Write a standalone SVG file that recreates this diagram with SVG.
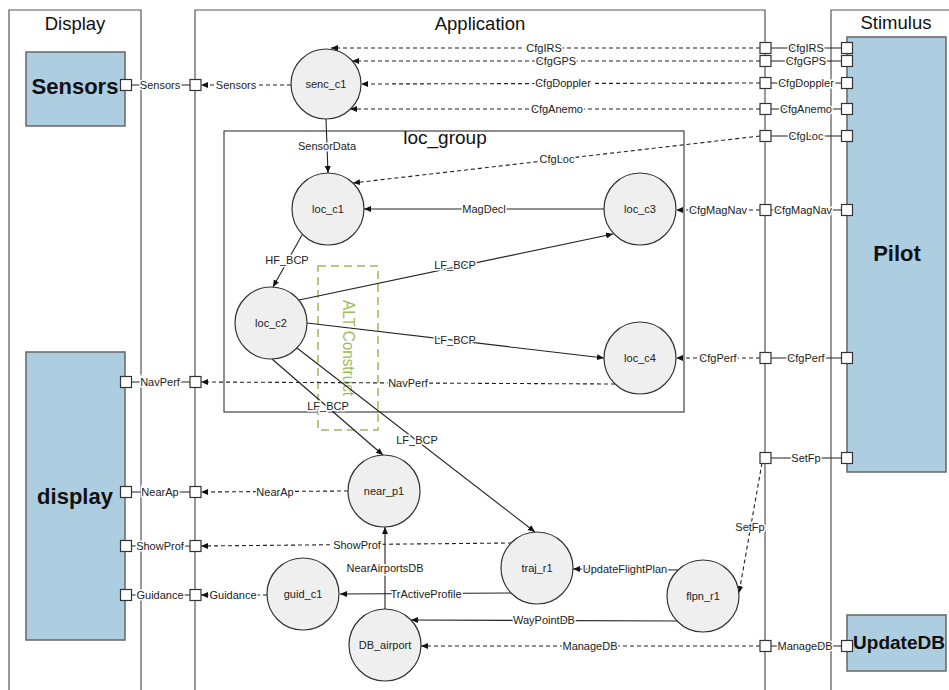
<svg xmlns="http://www.w3.org/2000/svg" width="949" height="690" viewBox="0 0 949 690">
<style>
.cont{fill:none;stroke:#555;stroke-width:1.2}
.title{font-family:"Liberation Sans",Arial,sans-serif;font-size:18.5px;fill:#111;text-anchor:middle}
.blk{fill:#adcde0;stroke:#666;stroke-width:1.5}
.big{font-family:"Liberation Sans",Arial,sans-serif;font-size:22px;font-weight:bold;fill:#111;text-anchor:middle;dominant-baseline:central}
.nd{fill:#efefef;stroke:#333;stroke-width:1.2}
.nt{font-family:"Liberation Sans",Arial,sans-serif;font-size:11px;fill:#222;text-anchor:middle;dominant-baseline:central}
.port{fill:#fff;stroke:#333;stroke-width:1.2}
.s{fill:none;stroke:#222;stroke-width:1.1}
.d{fill:none;stroke:#222;stroke-width:1.1;stroke-dasharray:4 3}
.lbl{font-family:"Liberation Sans",Arial,sans-serif;font-size:11px;fill:#222;text-anchor:middle;dominant-baseline:central;stroke:#fff;stroke-width:3;paint-order:stroke}
</style>
<defs>
<marker id="arr" markerWidth="8" markerHeight="8" refX="7" refY="4" orient="auto" markerUnits="userSpaceOnUse"><path d="M0,1 L7,4 L0,7 z" fill="#111"/></marker>
</defs>
<rect width="949" height="690" fill="#fff"/>
<g id="Display">
<path class="cont" d="M9,690 V10 H141 V690"/>
<text class="title" x="75" y="30">Display</text>
</g>
<g id="Application">
<path class="cont" d="M195,690 V10 H765 V690"/>
<text class="title" x="480" y="30">Application</text>
</g>
<g id="Stimulus">
<path class="cont" d="M831,690 V10 H949"/>
<text class="title" x="896" y="29">Stimulus</text>
</g>
<g id="loc_group">
<rect x="224" y="131" width="460" height="281" fill="none" stroke="#444" stroke-width="1.2"/>
<text x="445" y="144" font-family="Liberation Sans, Arial, sans-serif" font-size="19" fill="#111" text-anchor="middle">loc_group</text>
</g>
<g id="ALT_Construct">
<rect x="318" y="266" width="60" height="164" fill="none" stroke="#9bbb59" stroke-width="1.5" stroke-dasharray="8 5"/>
<text transform="translate(343,348) rotate(90)" font-family="Liberation Sans, Arial, sans-serif" font-size="16" fill="#9bbb59" text-anchor="middle" textLength="96" lengthAdjust="spacingAndGlyphs">ALT Construct</text>
</g>
<g id="Sensors">
<rect class="blk" x="26" y="52" width="99" height="74"/>
<text class="big" x="75" y="86">Sensors</text>
</g>
<g id="display">
<rect class="blk" x="26" y="352" width="99" height="288"/>
<text class="big" x="75" y="496">display</text>
</g>
<g id="Pilot">
<rect class="blk" x="847" y="37" width="99" height="435"/>
<text class="big" x="897" y="253">Pilot</text>
</g>
<g id="UpdateDB">
<rect class="blk" x="847" y="615" width="99" height="56"/>
<text class="big" x="899" y="642" style="font-size:19px">UpdateDB</text>
</g>
<g id="connectors">
<line class="s" x1="131" y1="85" x2="190" y2="85"/>
<line class="d" x1="291" y1="85" x2="201" y2="85" marker-end="url(#arr)"/>
<line class="s" x1="771" y1="48" x2="841" y2="48"/>
<line class="d" x1="760" y1="48" x2="331" y2="48" marker-end="url(#arr)"/>
<line class="s" x1="771" y1="61" x2="841" y2="61"/>
<line class="d" x1="760" y1="61" x2="352" y2="61" marker-end="url(#arr)"/>
<line class="s" x1="771" y1="83" x2="841" y2="83"/>
<line class="d" x1="760" y1="83" x2="361" y2="84" marker-end="url(#arr)"/>
<line class="s" x1="771" y1="109" x2="841" y2="109"/>
<line class="d" x1="760" y1="109" x2="350" y2="109" marker-end="url(#arr)"/>
<line class="s" x1="771" y1="136" x2="841" y2="136"/>
<line class="d" x1="760" y1="136" x2="353" y2="183" marker-end="url(#arr)"/>
<line class="s" x1="326" y1="119" x2="328" y2="173" marker-end="url(#arr)"/>
<line class="s" x1="604" y1="209" x2="364" y2="209" marker-end="url(#arr)"/>
<line class="s" x1="771" y1="210" x2="841" y2="210"/>
<line class="d" x1="760" y1="210" x2="676" y2="210" marker-end="url(#arr)"/>
<line class="s" x1="302" y1="235" x2="273" y2="287" marker-end="url(#arr)"/>
<line class="s" x1="299" y1="300" x2="613" y2="234" marker-end="url(#arr)"/>
<line class="s" x1="307" y1="323" x2="604" y2="358" marker-end="url(#arr)"/>
<line class="s" x1="771" y1="358" x2="841" y2="358"/>
<line class="d" x1="760" y1="358" x2="676" y2="358" marker-end="url(#arr)"/>
<line class="s" x1="131" y1="382" x2="190" y2="382"/>
<line class="d" x1="615" y1="384" x2="201" y2="382" marker-end="url(#arr)"/>
<line class="s" x1="272" y1="359" x2="383" y2="455" marker-end="url(#arr)"/>
<line class="s" x1="297" y1="348" x2="535" y2="532" marker-end="url(#arr)"/>
<line class="s" x1="841" y1="458" x2="771" y2="458"/>
<line class="d" x1="762" y1="463" x2="739" y2="593" marker-end="url(#arr)"/>
<line class="s" x1="131" y1="492" x2="190" y2="492"/>
<line class="d" x1="348" y1="491" x2="201" y2="492" marker-end="url(#arr)"/>
<line class="s" x1="131" y1="546" x2="190" y2="546"/>
<line class="d" x1="512" y1="543" x2="201" y2="546" marker-end="url(#arr)"/>
<line class="s" x1="131" y1="595" x2="190" y2="595"/>
<line class="d" x1="267" y1="595" x2="201" y2="595" marker-end="url(#arr)"/>
<line class="s" x1="385" y1="609" x2="385" y2="527" marker-end="url(#arr)"/>
<line class="s" x1="512" y1="593" x2="340" y2="594" marker-end="url(#arr)"/>
<line class="s" x1="678" y1="570" x2="573" y2="569" marker-end="url(#arr)"/>
<line class="s" x1="677" y1="621" x2="411" y2="620" marker-end="url(#arr)"/>
<line class="s" x1="771" y1="646" x2="841" y2="646"/>
<line class="d" x1="760" y1="646" x2="421" y2="646" marker-end="url(#arr)"/>
<text class="lbl" x="160" y="85">Sensors</text>
<text class="lbl" x="236" y="85">Sensors</text>
<text class="lbl" x="806" y="48">CfgIRS</text>
<text class="lbl" x="544" y="48">CfgIRS</text>
<text class="lbl" x="806" y="61">CfgGPS</text>
<text class="lbl" x="556" y="61">CfgGPS</text>
<text class="lbl" x="806" y="83">CfgDoppler</text>
<text class="lbl" x="563" y="83">CfgDoppler</text>
<text class="lbl" x="806" y="109">CfgAnemo</text>
<text class="lbl" x="557" y="109">CfgAnemo</text>
<text class="lbl" x="806" y="136">CfgLoc</text>
<text class="lbl" x="557" y="159">CfgLoc</text>
<text class="lbl" x="327" y="146">SensorData</text>
<text class="lbl" x="484" y="209">MagDecl</text>
<text class="lbl" x="803" y="210">CfgMagNav</text>
<text class="lbl" x="718" y="210">CfgMagNav</text>
<text class="lbl" x="287" y="260">HF_BCP</text>
<text class="lbl" x="455" y="265">LF_BCP</text>
<text class="lbl" x="455" y="340">LF_BCP</text>
<text class="lbl" x="806" y="358">CfgPerf</text>
<text class="lbl" x="718" y="358">CfgPerf</text>
<text class="lbl" x="160" y="382">NavPerf</text>
<text class="lbl" x="408" y="383">NavPerf</text>
<text class="lbl" x="328" y="406">LF_BCP</text>
<text class="lbl" x="417" y="440">LF_BCP</text>
<text class="lbl" x="806" y="458">SetFp</text>
<text class="lbl" x="750" y="527">SetFp</text>
<text class="lbl" x="160" y="492">NearAp</text>
<text class="lbl" x="275" y="492">NearAp</text>
<text class="lbl" x="160" y="546">ShowProf</text>
<text class="lbl" x="357" y="545">ShowProf</text>
<text class="lbl" x="160" y="595">Guidance</text>
<text class="lbl" x="233" y="595">Guidance</text>
<text class="lbl" x="385" y="568">NearAirportsDB</text>
<text class="lbl" x="426" y="594">TrActiveProfile</text>
<text class="lbl" x="625" y="569">UpdateFlightPlan</text>
<text class="lbl" x="544" y="620">WayPointDB</text>
<text class="lbl" x="805" y="646">ManageDB</text>
<text class="lbl" x="590" y="646">ManageDB</text>
</g>
<g id="senc_c1"><circle class="nd" cx="326" cy="84" r="35"/><text class="nt" x="326" y="84">senc_c1</text></g>
<g id="loc_c1"><circle class="nd" cx="328" cy="209" r="36"/><text class="nt" x="328" y="209">loc_c1</text></g>
<g id="loc_c2"><circle class="nd" cx="271" cy="323" r="36"/><text class="nt" x="271" y="323">loc_c2</text></g>
<g id="loc_c3"><circle class="nd" cx="640" cy="209" r="36"/><text class="nt" x="640" y="209">loc_c3</text></g>
<g id="loc_c4"><circle class="nd" cx="640" cy="358" r="36"/><text class="nt" x="640" y="358">loc_c4</text></g>
<g id="near_p1"><circle class="nd" cx="384" cy="491" r="36"/><text class="nt" x="384" y="491">near_p1</text></g>
<g id="traj_r1"><circle class="nd" cx="537" cy="568" r="36"/><text class="nt" x="537" y="568">traj_r1</text></g>
<g id="guid_c1"><circle class="nd" cx="303" cy="594" r="36"/><text class="nt" x="303" y="594">guid_c1</text></g>
<g id="DB_airport"><circle class="nd" cx="385" cy="645" r="36"/><text class="nt" x="385" y="645">DB_airport</text></g>
<g id="flpn_r1"><circle class="nd" cx="703" cy="596" r="36"/><text class="nt" x="703" y="596">flpn_r1</text></g>
<g id="ports">
<rect class="port" x="120.5" y="79.5" width="11" height="11"/>
<rect class="port" x="190" y="79.5" width="11" height="11"/>
<rect class="port" x="120.5" y="376.5" width="11" height="11"/>
<rect class="port" x="190" y="376.5" width="11" height="11"/>
<rect class="port" x="120.5" y="486.5" width="11" height="11"/>
<rect class="port" x="190" y="486.5" width="11" height="11"/>
<rect class="port" x="120.5" y="540.5" width="11" height="11"/>
<rect class="port" x="190" y="540.5" width="11" height="11"/>
<rect class="port" x="120.5" y="589.5" width="11" height="11"/>
<rect class="port" x="190" y="589.5" width="11" height="11"/>
<rect class="port" x="760" y="42.5" width="11" height="11"/>
<rect class="port" x="841.5" y="42.5" width="11" height="11"/>
<rect class="port" x="760" y="55.5" width="11" height="11"/>
<rect class="port" x="841.5" y="55.5" width="11" height="11"/>
<rect class="port" x="760" y="77.5" width="11" height="11"/>
<rect class="port" x="841.5" y="77.5" width="11" height="11"/>
<rect class="port" x="760" y="103.5" width="11" height="11"/>
<rect class="port" x="841.5" y="103.5" width="11" height="11"/>
<rect class="port" x="760" y="130.5" width="11" height="11"/>
<rect class="port" x="841.5" y="130.5" width="11" height="11"/>
<rect class="port" x="760" y="204.5" width="11" height="11"/>
<rect class="port" x="841.5" y="204.5" width="11" height="11"/>
<rect class="port" x="760" y="352.5" width="11" height="11"/>
<rect class="port" x="841.5" y="352.5" width="11" height="11"/>
<rect class="port" x="760" y="452.5" width="11" height="11"/>
<rect class="port" x="841.5" y="452.5" width="11" height="11"/>
<rect class="port" x="760" y="640.5" width="11" height="11"/>
<rect class="port" x="841.5" y="640.5" width="11" height="11"/>
</g>
</svg>
